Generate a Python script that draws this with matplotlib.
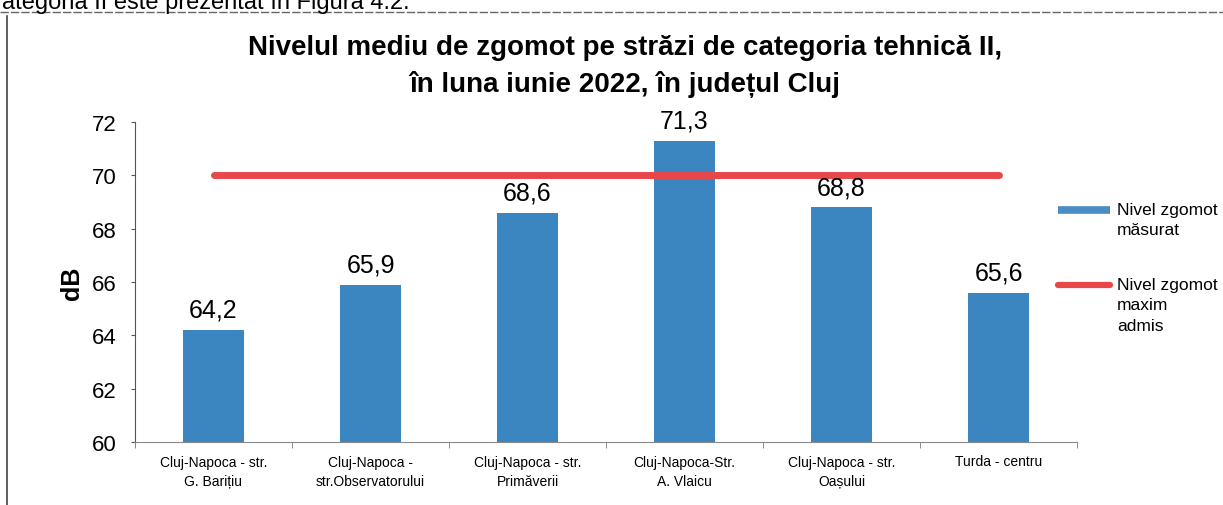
import matplotlib.pyplot as plt
import numpy as np
from matplotlib.lines import Line2D

plt.rcParams['font.family'] = ['Liberation Sans', 'DejaVu Sans']

# nivel mediu de zgomot, iunie 2022
locatii = ["Cluj-Napoca - str.\nG. Barițiu", "Cluj-Napoca -\nstr.Observatorului",
           "Cluj-Napoca - str.\nPrimăverii", "Cluj-Napoca-Str.\nA. Vlaicu",
           "Cluj-Napoca - str.\nOașului", "Turda - centru"]
nivel = [64.2, 65.9, 68.6, 71.3, 68.8, 65.6]
nivel_maxim = [70, 70, 70, 70, 70, 70]
yticks = [60, 62, 64, 66, 68, 70, 72]

albastru = '#3b86c0'
rosu = '#e8474a'

fig = plt.figure(figsize=(12.23, 5.06), dpi=100)
ax = fig.add_axes([135/1223, 1-443/506, 942/1223, 320/506])

x = np.arange(len(locatii))
ax.bar(x, [v - 60 for v in nivel], bottom=60, width=0.39, color=albastru, zorder=2)
ax.plot(x, nivel_maxim, color=rosu, lw=5, solid_capstyle='round', zorder=3)
for xi, v in zip(x, nivel):
    ax.annotate(f"{v:.1f}".replace('.', ','), (xi, v), xytext=(0, 6),
                textcoords='offset points', ha='center', va='bottom',
                fontsize=18, zorder=4)

ax.set_xlim(-0.5, len(locatii) - 0.5)
ax.set_ylim(60, 72)
ax.set_yticks(yticks)
ax.tick_params(axis='y', labelsize=16, length=3, pad=10, color='#555')
ax.set_xticks(x)
ax.set_xticklabels(locatii, fontsize=10)
for lbl in ax.get_xticklabels():
    lbl.set_linespacing(1.5)
ax.set_xticks(np.arange(len(locatii) + 1) - 0.5, minor=True)
ax.tick_params(axis='x', which='major', length=0, pad=9)
ax.tick_params(axis='x', which='minor', length=4, color='#777')
for s in ['top', 'right']:
    ax.spines[s].set_visible(False)
ax.spines['left'].set_color('#555')
ax.spines['bottom'].set_color('#888')
ax.set_ylabel('dB', fontsize=18, fontweight='bold', labelpad=6)

fig.text(625/1223, 1-48/506, "Nivelul mediu de zgomot pe străzi de categoria tehnică II,",
         ha='center', va='center', fontsize=20, fontweight='bold')
fig.text(625/1223, 1-85/506, "în luna iunie 2022, în județul Cluj",
         ha='center', va='center', fontsize=20, fontweight='bold')

# legenda
fig.add_artist(Line2D([1058/1223, 1110/1223], [1-211/506, 1-211/506],
                      color='#4a8cc4', lw=5.5, solid_capstyle='butt'))
fig.add_artist(Line2D([1058/1223, 1110/1223], [1-286/506, 1-286/506],
                      color=rosu, lw=4.5, solid_capstyle='round'))
fig.text(1117/1223, 1-203/506, "Nivel zgomot\nmăsurat", ha='left', va='top',
         fontsize=12.5, linespacing=1.45)
fig.text(1117/1223, 1-278/506, "Nivel zgomot\nmaxim\nadmis", ha='left', va='top',
         fontsize=12.5, linespacing=1.45)

# chenarul paginii
fig.add_artist(Line2D([0, 1], [1-13/506, 1-13/506], color='#666', lw=1, ls=(0, (6, 1.5))))
fig.add_artist(Line2D([7/1223, 7/1223], [0, 1-17/506], color='#444', lw=1.2))
fig.text(2/1223, 1-9/506, "ategoria II este prezentat în Figura 4.2.", ha='left',
         va='baseline', fontsize=17)

fig.savefig('out.png', dpi=100)
